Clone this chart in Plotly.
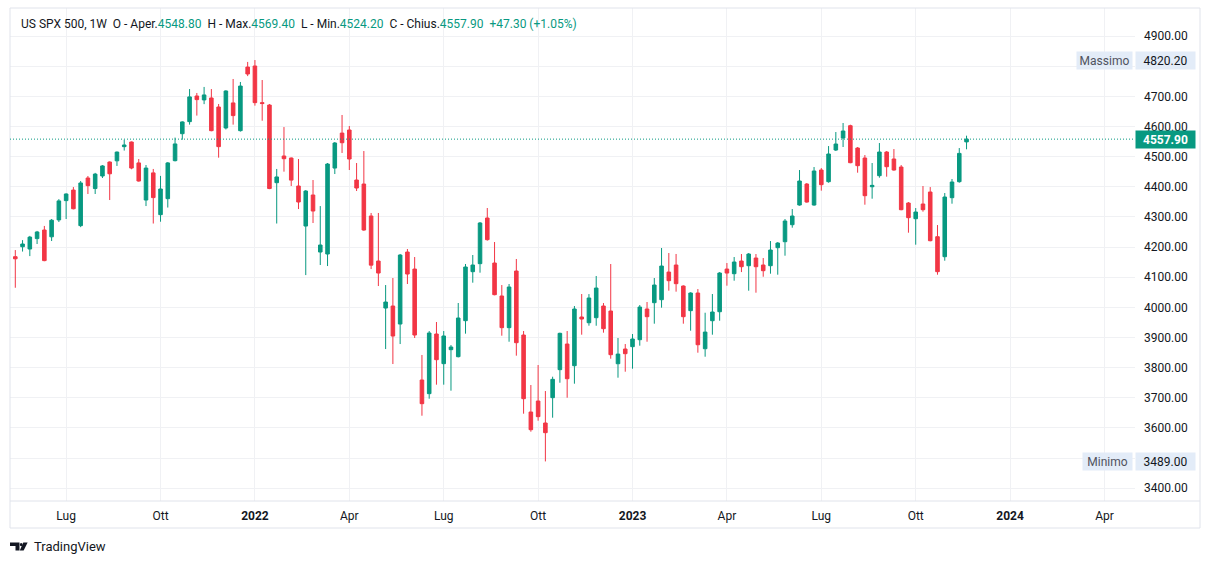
import plotly.graph_objects as go
import pandas as pd

# ---------------- data (weekly candles) ----------------
start_week = "2021-05-17"
opens = [4168, 4201, 4193.5, 4228, 4256.5, 4234, 4290, 4354, 4389, 4271,
         4429, 4394, 4435.7, 4482, 4486, 4533, 4548.4, 4479, 4356, 4446,
         4307.4, 4360.5, 4486.5, 4576, 4616, 4701, 4688, 4694.4, 4664.5, 4595,
         4678, 4586, 4797, 4800.5, 4679, 4671, 4413.5, 4502, 4495.3, 4402.4,
         4269.7, 4372.6, 4183.5, 4176.9, 4462, 4578, 4588.2, 4422.3, 4409, 4303,
         4153.6, 3997.7, 4004.4, 3944.7, 4183.5, 4127, 3759, 3713.7, 3911.6, 3813.2,
         3859.6, 3836.4, 3955.8, 4118.3, 4144.9, 4296.3, 4147, 4037.6, 3932.6, 4120.5,
         3908.2, 3652.8, 3689.3, 3616.4, 3700.4, 3793.3, 3878.3, 3806.5, 3968, 3949,
         3965.7, 4004.4, 3987.8, 3813, 3861.8, 3869.5, 3892.7, 3994.5, 4015.5, 4025.4,
         4117, 4140.4, 4070.7, 3989, 4047.5, 3862.8, 3955.7, 3985.5, 4127, 4111.6,
         4153.6, 4138.1, 4163.6, 4140.4, 4138.1, 4197.9, 4217.7, 4274.1, 4339.4, 4409,
         4339.4, 4455.5, 4416.8, 4521.8, 4561.6, 4602.5, 4528.4, 4495.3, 4400, 4436.7,
         4515.2, 4492, 4465.4, 4346, 4294, 4342.7, 4382.5, 4234.3, 4168, 4363.7,
         4416.8, 4548.8]
highs = [4190, 4223, 4237, 4253.5, 4270, 4293, 4359, 4378, 4399, 4419,
         4435.7, 4446, 4472, 4484, 4517, 4556, 4550, 4492, 4472, 4459,
         4436, 4482, 4563, 4617, 4724, 4711, 4731, 4724, 4674.5, 4720,
         4757.4, 4747.5, 4814, 4820.2, 4754, 4674.5, 4459, 4598, 4497, 4492,
         4389, 4422.3, 4336, 4478.7, 4548.4, 4638, 4601.5, 4478.7, 4518.5, 4313,
         4313, 4074, 4097.3, 4177, 4193.5, 4166.9, 3842, 3921.5, 3951.4, 3921.5,
         3875, 4014.4, 4143.8, 4173.6, 4283, 4329.5, 4216.7, 4074, 4077.4, 4160.4,
         3921.5, 3742.4, 3808.7, 3722.5, 3770, 3916, 3921.5, 4004.4, 4044.2, 4044,
         4104, 4014.3, 4143.7, 3898.3, 3878.3, 3911.5, 4007.7, 4017.7, 4097.3, 4196.8,
         4180.2, 4177, 4073, 4050, 4060.8, 3982.2, 4044.2, 4117, 4147, 4166.9,
         4176.8, 4180.2, 4176.8, 4163.6, 4219.9, 4216.6, 4293, 4326, 4455.5, 4412.3,
         4465.4, 4462, 4535, 4581.5, 4611.4, 4605.8, 4531.8, 4505.2, 4478.7, 4545,
         4518.5, 4525, 4472, 4349.3, 4329.4, 4402.4, 4399, 4273, 4379.2, 4425.6,
         4528.4, 4569.4]
lows = [4065, 4185, 4170, 4210, 4153, 4220, 4283, 4293, 4325, 4266,
        4376, 4376, 4429, 4356, 4469, 4520, 4458, 4417, 4336, 4278,
        4284, 4331, 4484, 4556, 4606, 4636, 4674, 4584, 4496.5, 4590,
        4606, 4583, 4767, 4669, 4619, 4392, 4278, 4450, 4402.4, 4326,
        4107, 4279.7, 4140.4, 4137, 4442.2, 4512, 4455.5, 4385.8, 4254, 4127,
        4070.7, 3861.7, 3812, 3878.3, 4077.4, 3898.3, 3640.6, 3697, 3743.5, 3743.5,
        3723.6, 3834, 3912.7, 4081.8, 4115, 4221.2, 4040, 3906, 3886, 3839.7,
        3647.3, 3587.6, 3624, 3489.0, 3634, 3750, 3700.3, 3746.8, 3909.3, 3939.2,
        3939, 3916, 3829.7, 3766.7, 3786.6, 3796.5, 3872.8, 3886, 3945.8, 3998.9,
        4055.3, 4052, 3945.8, 3922.6, 3849.6, 3836.3, 3909.3, 3955.7, 4071.8, 4088.4,
        4117, 4055.2, 4048.6, 4101.6, 4111.6, 4108.3, 4171.3, 4264.2, 4337.2, 4347.1,
        4337.2, 4387, 4413.4, 4518.5, 4531.8, 4478, 4446.6, 4340.5, 4360.4, 4430,
        4433.4, 4453.3, 4322, 4247.6, 4207.8, 4317.3, 4219, 4108.3, 4154.7, 4343.8,
        4413.4, 4524.2]
closes = [4161, 4210, 4233, 4250, 4155, 4289, 4353, 4376, 4327, 4412.5,
          4403.6, 4442, 4469, 4443, 4515, 4538.5, 4462, 4419, 4462, 4364,
          4392.5, 4479, 4542, 4615, 4698, 4689, 4704.5, 4586, 4533, 4717.6,
          4636, 4734, 4774, 4679, 4676, 4394, 4432.5, 4493, 4422, 4349.4,
          4385.8, 4319.5, 4206.7, 4475.4, 4545, 4546, 4492, 4395.8, 4256.5, 4140,
          4113.8, 4017.6, 3904.9, 4173.5, 4110.5, 3908.2, 3680.5, 3914.9, 3826.4, 3905,
          3868.4, 3964.6, 4133.8, 4140.4, 4279.8, 4224.5, 4042, 3932.6, 4067.5, 3882.8,
          3697, 3594.2, 3637.4, 3584.3, 3761.2, 3913.8, 3763.3, 3994.5, 3961.3, 4031,
          4064, 3929.2, 3843, 3845, 3846.3, 3895, 4001, 3969, 4074, 4137,
          4088.4, 4078.5, 3969, 4047.5, 3876, 3918, 3984.5, 4113.8, 4113.8, 4150.3,
          4134.8, 4176.8, 4134.8, 4121.6, 4190.1, 4213.3, 4286.3, 4302.9, 4419, 4349.3,
          4452.2, 4406.8, 4508.6, 4541.7, 4584.8, 4479.8, 4469.9, 4370.3, 4404.6, 4515.2,
          4466.5, 4455.5, 4323.9, 4297.4, 4316.2, 4323.9, 4221.1, 4118.3, 4365.9, 4415.7,
          4510.6, 4557.9]

tick_dates = ["2021-07-05", "2021-10-04", "2022-01-03", "2022-04-04", "2022-07-04",
              "2022-10-03", "2023-01-02", "2023-04-03", "2023-07-03", "2023-10-02",
              "2024-01-01", "2024-04-01"]
tick_text = ["Lug", "Ott", "<b>2022</b>", "Apr", "Lug", "Ott", "<b>2023</b>",
             "Apr", "Lug", "Ott", "<b>2024</b>", "Apr"]
price_ticks = list(range(3400, 5000, 100))
hidden_price_ticks = [3500, 4800]   # covered by the Massimo / Minimo labels

symbol_title = "US SPX 500, 1W"

# ---------------- styling ----------------
GREEN = "#089981"
RED = "#F23645"
TXT = "#131722"
GRID = "#f0f1f4"
BORDER = "#e0e3eb"
LABEL_BG = "#e3ecf8"
FONT = "Roboto"

W, H = 1209, 564
L, R, T, B = 10, 74, 8, 63
PW, PH = W - L - R, H - T - B


def px_x(px):
    return (px - L) / PW


def px_y(py):
    return (H - B - py) / PH


dates = pd.date_range(pd.Timestamp(start_week), periods=len(opens), freq="7D")
week = pd.Timedelta(days=7)
x_range = [dates[0] - 0.73 * week, dates[0] + 154.2 * week]

fig = go.Figure(go.Candlestick(
    x=dates, open=opens, high=highs, low=lows, close=closes,
    increasing=dict(line=dict(color=GREEN, width=1), fillcolor=GREEN),
    decreasing=dict(line=dict(color=RED, width=1), fillcolor=RED),
    whiskerwidth=0, hoverinfo="skip", showlegend=False,
))

last_o, last_h, last_l, last_c = opens[-1], highs[-1], lows[-1], closes[-1]
chg = last_c - closes[-2]
chg_pct = chg / closes[-2] * 100
hi_val = max(highs)
lo_val = min(lows)


def g(v):
    return f"<span style='color:{GREEN}'>{v}</span>"


sp = "&nbsp;&nbsp;"
header = (f"{symbol_title}{sp}O - Aper.{g(f'{last_o:.2f}')}{sp}H - Max.{g(f'{last_h:.2f}')}"
          f"{sp}L - Min.{g(f'{last_l:.2f}')}{sp}C - Chius.{g(f'{last_c:.2f}')}"
          f"{sp}{g(f'{chg:+.2f} ({chg_pct:+.2f}%)')}")

annotations = [
    dict(text=header, xref="paper", yref="paper", x=px_x(19), y=px_y(24),
         xanchor="left", yanchor="middle", showarrow=False,
         font=dict(family=FONT, size=12, color=TXT)),
    # Massimo
    dict(text="Massimo", xref="paper", yref="y", x=px_x(1133), y=hi_val,
         xanchor="right", yanchor="middle", showarrow=False, bgcolor=LABEL_BG,
         borderpad=2, width=51, height=13, align="center",
         font=dict(family=FONT, size=12, color="#50535e")),
    dict(text=f"{hi_val:.2f}", xref="paper", yref="y", x=px_x(1135), y=hi_val,
         xanchor="left", yanchor="middle", showarrow=False, bgcolor=LABEL_BG,
         borderpad=2, width=55, height=13, align="center",
         font=dict(family=FONT, size=12, color=TXT)),
    # Minimo
    dict(text="Minimo", xref="paper", yref="y", x=px_x(1133), y=lo_val,
         xanchor="right", yanchor="middle", showarrow=False, bgcolor=LABEL_BG,
         borderpad=2, width=45, height=13, align="center",
         font=dict(family=FONT, size=12, color="#50535e")),
    dict(text=f"{lo_val:.2f}", xref="paper", yref="y", x=px_x(1135), y=lo_val,
         xanchor="left", yanchor="middle", showarrow=False, bgcolor=LABEL_BG,
         borderpad=2, width=55, height=13, align="center",
         font=dict(family=FONT, size=12, color=TXT)),
    # last price
    dict(text=f"<b>{last_c:.2f}</b>", xref="paper", yref="y", x=px_x(1135), y=last_c,
         xanchor="left", yanchor="middle", showarrow=False, bgcolor=GREEN,
         borderpad=2, width=55, height=13, align="center",
         font=dict(family=FONT, size=12, color="white")),
    # TradingView text
    dict(text="TradingView", xref="paper", yref="paper", x=px_x(32), y=px_y(546.5),
         xanchor="left", yanchor="middle", showarrow=False,
         font=dict(family=FONT, size=13, color=TXT)),
]


def path(points):
    return "M " + " L ".join(f"{px_x(a)},{px_y(b)}" for a, b in points) + " Z"


shapes = [
    # frame
    dict(type="rect", xref="paper", yref="paper", x0=px_x(10), x1=px_x(1200),
         y0=px_y(528), y1=px_y(8), line=dict(color=BORDER, width=1), layer="above"),
    dict(type="line", xref="paper", yref="paper", x0=px_x(10), x1=px_x(1200),
         y0=px_y(501), y1=px_y(501), line=dict(color=BORDER, width=1)),
    # last price dotted line
    dict(type="line", xref="paper", yref="y", x0=0, x1=1, y0=last_c, y1=last_c,
         line=dict(color=GREEN, width=1, dash="1px,2px")),
    # TradingView logo
    dict(type="path", xref="paper", yref="paper", line=dict(width=0), fillcolor=TXT,
         path=path([(10, 542.5), (19.5, 542.5), (19.5, 550.5), (15.5, 550.5),
                    (15.5, 546), (10, 546)])),
    dict(type="circle", xref="paper", yref="paper", line=dict(width=0), fillcolor=TXT,
         x0=px_x(19.8), x1=px_x(22.6), y0=px_y(546.2), y1=px_y(543.0)),
    dict(type="path", xref="paper", yref="paper", line=dict(width=0), fillcolor=TXT,
         path=path([(23.3, 542.5), (27.6, 542.5), (23.6, 550.5), (19.8, 550.5)])),
]

fig.update_layout(
    width=W, height=H, margin=dict(l=L, r=R, t=T, b=B, autoexpand=False),
    paper_bgcolor="white", plot_bgcolor="white", template="none",
    font=dict(family=FONT, size=12, color=TXT),
    xaxis=dict(type="date", range=x_range, tickmode="array", tickvals=tick_dates,
               ticktext=tick_text, showgrid=True, gridcolor=GRID, gridwidth=1,
               zeroline=False, showline=False, ticks="", rangeslider=dict(visible=False),
               tickfont=dict(family=FONT, size=12, color=TXT), ticklabelstandoff=6,
               automargin=False, fixedrange=True),
    yaxis=dict(side="right", range=[4900 - (H - B - 36) / 30.15 * 100, 4900 + (36 - T) / 30.15 * 100],
               tickmode="array", tickvals=price_ticks,
               ticktext=["" if v in hidden_price_ticks else f"{v:.2f}" for v in price_ticks],
               showgrid=True, gridcolor=GRID,
               gridwidth=1, zeroline=False, showline=False, ticks="",
               tickfont=dict(family=FONT, size=12, color=TXT), ticklabelstandoff=8,
               automargin=False, fixedrange=True),
    annotations=annotations, shapes=shapes, hovermode=False,
)

fig.write_html("out.html", config=dict(displayModeBar=False),
               post_script="document.body.style.margin='0';document.body.style.padding='0';")
